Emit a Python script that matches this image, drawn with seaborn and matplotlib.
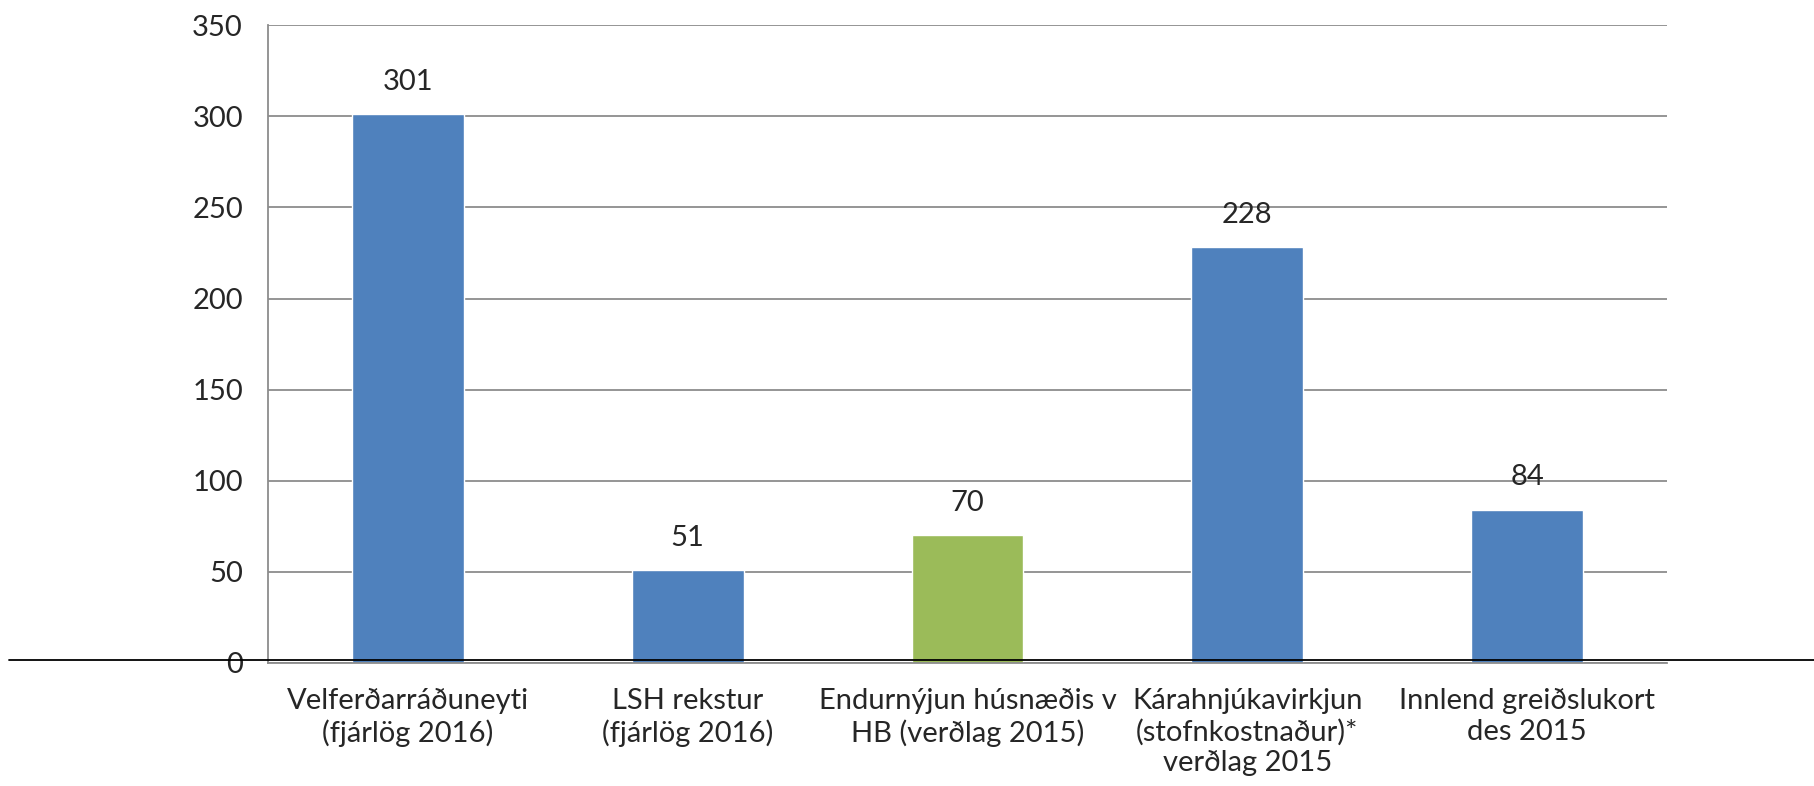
import matplotlib
matplotlib.use("Agg")
import matplotlib.pyplot as plt
import matplotlib.transforms as mtransforms
from matplotlib.lines import Line2D
import seaborn as sns
import pandas as pd
import numpy as np

categories = ["Velferðarráðuneyti\n(fjárlög 2016)",
              "LSH rekstur\n(fjárlög 2016)",
              "Endurnýjun húsnæðis v\nHB (verðlag 2015)",
              "Kárahnjúkavirkjun\n(stofnkostnaður)*\nverðlag 2015",
              "Innlend greiðslukort\ndes 2015"]
values = [301, 51, 70, 228, 84]
bar_colors = ["#4F81BD", "#4F81BD", "#9BBB59", "#4F81BD", "#4F81BD"]
yticks = [0, 50, 100, 150, 200, 250, 300, 350]

df = pd.DataFrame({"cat": categories, "val": values})

sns.set_style("white")
plt.rcParams['font.family'] = ['Lato', 'DejaVu Sans']

fig = plt.figure(figsize=(18.14, 7.86), dpi=100)
ax = fig.add_axes([0.1477, 0.1565, 0.919 - 0.1477, 0.968 - 0.1565])

sns.barplot(data=df, x="cat", y="val", hue="cat", palette=bar_colors,
            width=0.4, legend=False, ax=ax, saturation=1)

ax.set_ylim(0, 350)
ax.set_xlim(-0.5, len(categories) - 0.5)
ax.set_yticks(yticks)
ax.yaxis.grid(True, color="#8c8c8c", linewidth=1.3)
ax.set_axisbelow(True)
ax.set_xlabel("")
ax.set_ylabel("")

for s in ["top", "right"]:
    ax.spines[s].set_visible(False)
for s in ["left", "bottom"]:
    ax.spines[s].set_color("#8c8c8c")
    ax.spines[s].set_linewidth(1.3)

ax.tick_params(axis="y", length=10, width=1.3, color="#8c8c8c", labelsize=21, pad=8)
ax.tick_params(axis="x", which="major", length=0, labelsize=21, pad=18)
ax.set_xticks(np.arange(-0.5, len(categories)), minor=True)
ax.tick_params(axis="x", which="minor", length=9, width=1.3, color="#8c8c8c")
for lbl in ax.get_xticklabels():
    lbl.set_linespacing(1.22)

for c in ax.containers:
    ax.bar_label(c, padding=14, fontsize=21)

# black baseline extending across the whole figure
trans = mtransforms.blended_transform_factory(fig.transFigure, ax.transData)
fig.add_artist(Line2D([0.005, 1.0], [1.8, 1.8], transform=trans, color="black", linewidth=1.3))

fig.savefig("out.png", dpi=100)
